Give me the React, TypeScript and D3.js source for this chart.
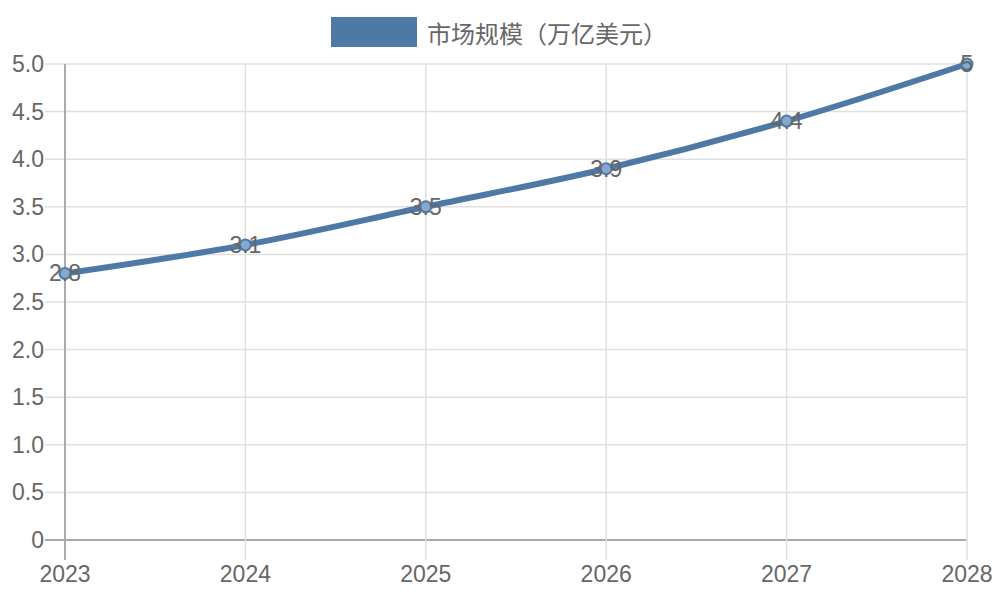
import React from 'react';
import * as d3 from 'd3';

const years = ['2023', '2024', '2025', '2026', '2027', '2028'];
const marketSize = [2.8, 3.1, 3.5, 3.9, 4.4, 5];
const yTicks = [0, 0.5, 1, 1.5, 2, 2.5, 3, 3.5, 4, 4.5, 5];
const seriesName = '市场规模（万亿美元）';

const LINE = '#4e79a7';
const TEXT = '#666666';
const FONT = '"Liberation Sans", Arial, sans-serif';

export default function App() {
  const width = 1000;
  const height = 600;
  const margin = { top: 64, right: 33, bottom: 60, left: 65 };

  const x = d3
    .scalePoint<string>()
    .domain(years)
    .range([margin.left, width - margin.right]);

  const y = d3
    .scaleLinear()
    .domain([0, 5])
    .range([height - margin.bottom, margin.top]);

  const points = years.map((yr, i) => ({ yr, v: marketSize[i] }));

  const line = d3
    .line<{ yr: string; v: number }>()
    .x((d) => x(d.yr) || 0)
    .y((d) => y(d.v))
    .curve(d3.curveMonotoneX);

  const tickLen = 20;
  const bottom = y(0);

  return (
    <svg
      width={width}
      height={height}
      style={{ position: 'absolute', left: 0, top: 0, background: '#fff' }}
    >
      {/* Legend */}
      <rect x={331} y={17} width={86} height={30} fill={LINE} />
      <text
        x={427}
        y={32}
        dominantBaseline="central"
        fill={TEXT}
        fontSize={24}
        fontFamily='"Noto Sans CJK SC", sans-serif'
      >
        {seriesName}
      </text>

      {/* Horizontal grid */}
      {yTicks.map((t) => (
        <line
          key={`gy${t}`}
          x1={margin.left - tickLen}
          x2={width - margin.right}
          y1={y(t)}
          y2={y(t)}
          stroke={t === 0 ? '#aaaaaa' : '#e0e0e0'}
          strokeWidth={t === 0 ? 2 : 1.5}
        />
      ))}

      {/* Vertical grid */}
      {years.map((yr, i) => (
        <line
          key={`gx${yr}`}
          x1={x(yr)}
          x2={x(yr)}
          y1={margin.top}
          y2={bottom + tickLen}
          stroke={i === 0 ? '#aaaaaa' : '#e0e0e0'}
          strokeWidth={i === 0 ? 2 : 1.5}
        />
      ))}

      {/* Y tick labels */}
      {yTicks.map((t) => (
        <text
          key={`ty${t}`}
          x={44}
          y={y(t)}
          textAnchor="end"
          dominantBaseline="central"
          fill={TEXT}
          fontSize={23}
          fontFamily={FONT}
        >
          {t === 0 ? '0' : t.toFixed(1)}
        </text>
      ))}

      {/* X tick labels */}
      {years.map((yr) => (
        <text
          key={`tx${yr}`}
          x={x(yr)}
          y={574}
          textAnchor="middle"
          dominantBaseline="central"
          fill={TEXT}
          fontSize={23}
          fontFamily={FONT}
        >
          {yr}
        </text>
      ))}

      {/* Series line */}
      <path
        d={line(points) || ''}
        fill="none"
        stroke={LINE}
        strokeWidth={6}
        strokeLinecap="round"
        strokeLinejoin="round"
      />

      {/* Points */}
      {points.map((d) => (
        <circle
          key={`p${d.yr}`}
          cx={x(d.yr)}
          cy={y(d.v)}
          r={5.5}
          fill="#86a8cd"
          stroke={LINE}
          strokeWidth={2}
        />
      ))}

      {/* Data labels */}
      {points.map((d) => (
        <text
          key={`l${d.yr}`}
          x={x(d.yr)}
          y={y(d.v)}
          textAnchor="middle"
          dominantBaseline="central"
          fill={TEXT}
          fontSize={23}
          fontFamily={FONT}
        >
          {String(d.v)}
        </text>
      ))}
    </svg>
  );
}
